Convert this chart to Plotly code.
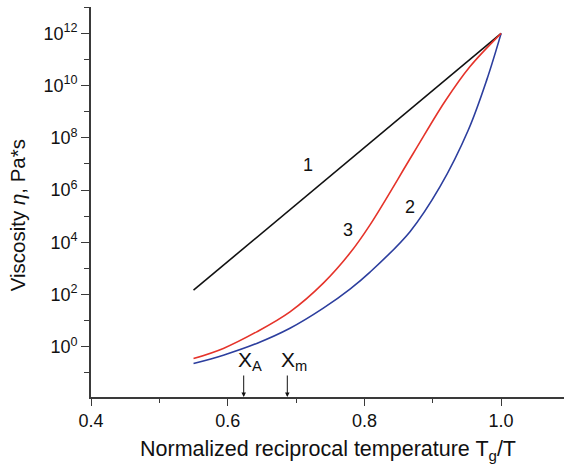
import plotly.graph_objects as go

# Normalized reciprocal temperature Tg/T and log10(viscosity, Pa*s)
x_line1 = [0.55, 1.0]
logeta_line1 = [2.17, 12.0]

x_curve2 = [0.55, 0.5936, 0.6424, 0.6911, 0.7399, 0.7789, 0.8082, 0.8667, 0.9106, 0.952, 0.979, 1.0]
logeta_curve2 = [-0.64, -0.32, 0.13, 0.71, 1.48, 2.21, 2.86, 4.41, 6.13, 8.30, 10.22, 12.0]

x_curve3 = [0.55, 0.5936, 0.6424, 0.6911, 0.7399, 0.7789, 0.8082, 0.8716, 0.918, 0.9545, 1.0]
logeta_curve3 = [-0.45, -0.06, 0.575, 1.34, 2.44, 3.59, 4.67, 7.41, 9.40, 10.73, 12.0]

curve_labels = ["1", "2", "3"]
label_x = [0.7175, 0.8667, 0.7765]
label_logeta = [6.96, 5.36, 4.47]

marker_names = ["X<sub>A</sub>", "X<sub>m</sub>"]
marker_x = [0.6234, 0.6872]

x_ticks = [0.4, 0.6, 0.8, 1.0]
x_ticktext = ["0.4", "0.6", "0.8", "1.0"]
x_minor = [0.5, 0.7, 0.9]
y_exps = [0, 2, 4, 6, 8, 10, 12]
y_minor_exps = [-1, 1, 3, 5, 7, 9, 11, 13]

FONT = "Liberation Sans, Arial, sans-serif"
AX = "#3a3a3a"

fig = go.Figure()
fig.add_trace(go.Scatter(x=x_line1, y=[10 ** v for v in logeta_line1], mode="lines",
                         line=dict(color="#111111", width=1.6), showlegend=False))
fig.add_trace(go.Scatter(x=x_curve2, y=[10 ** v for v in logeta_curve2], mode="lines",
                         line=dict(color="#2c3e9e", width=1.6, shape="spline", smoothing=1.0),
                         showlegend=False))
fig.add_trace(go.Scatter(x=x_curve3, y=[10 ** v for v in logeta_curve3], mode="lines",
                         line=dict(color="#e5332a", width=1.6, shape="spline", smoothing=1.0),
                         showlegend=False))

annotations = []
for t, lx, ly in zip(curve_labels, label_x, label_logeta):
    annotations.append(dict(x=lx, y=ly, xref="x", yref="y", text=t, showarrow=False,
                            font=dict(family=FONT, size=18, color="#111")))

y0 = -1.92
for name, mx in zip(marker_names, marker_x):
    annotations.append(dict(x=mx, y=y0, xref="x", yref="y", text="", showarrow=True,
                            ax=0, ay=-23, arrowhead=2, arrowsize=0.9, arrowwidth=1,
                            arrowcolor="#111", standoff=0))
    annotations.append(dict(x=mx, y=y0, xref="x", yref="y", text=name, showarrow=False,
                            xanchor="left", yanchor="bottom", xshift=-8, yshift=21,
                            font=dict(family=FONT, size=21, color="#111")))

annotations.append(dict(x=0.501, y=-0.138, xref="paper", yref="paper",
                        text="Normalized reciprocal temperature T<sub>g</sub>/T",
                        showarrow=False, xanchor="center", yanchor="middle",
                        font=dict(family=FONT, size=21.5, color="#111")))
annotations.append(dict(x=-0.155, y=0.465, xref="paper", yref="paper",
                        text="Viscosity <i>η</i>, Pa*s", textangle=-90,
                        showarrow=False, xanchor="center", yanchor="middle",
                        font=dict(family=FONT, size=20.5, color="#111")))

fig.update_layout(
    width=564, height=467,
    margin=dict(l=91, r=0, t=7, b=70),
    paper_bgcolor="white", plot_bgcolor="white",
    font=dict(family=FONT, size=17, color="#111"),
    annotations=annotations,
    xaxis=dict(range=[0.4, 1.092], showgrid=False, zeroline=False,
               showline=True, linecolor=AX, linewidth=1.6,
               ticks="outside", ticklen=7, tickwidth=1.4, tickcolor=AX,
               tickmode="array", tickvals=x_ticks, ticktext=x_ticktext,
               minor=dict(tickvals=x_minor, ticks="outside", ticklen=4, tickwidth=1.4, tickcolor=AX),
               tickfont=dict(size=18)),
    yaxis=dict(type="log", range=[-1.92, 13.01], showgrid=False, zeroline=False,
               showline=True, linecolor=AX, linewidth=1.6,
               ticks="outside", ticklen=8, tickwidth=1.4, tickcolor=AX,
               tickmode="array", tickvals=[10 ** e for e in y_exps],
               ticktext=["10<sup>%d</sup>" % e for e in y_exps],
               minor=dict(tickvals=[10 ** e for e in y_minor_exps], ticks="outside",
                          ticklen=5, tickwidth=1.4, tickcolor=AX),
               tickfont=dict(size=18)),
)

fig.write_html("out.html")
